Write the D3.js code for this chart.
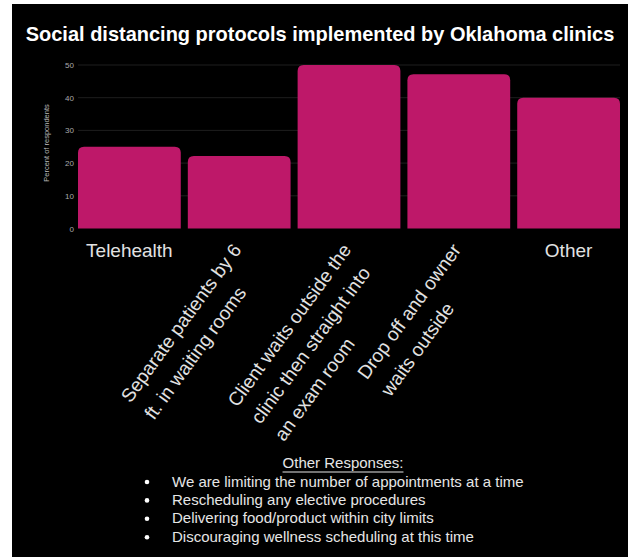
<!DOCTYPE html>
<html>
<head>
<meta charset="utf-8">
<script src="https://cdn.jsdelivr.net/npm/d3@7"></script>
<style>
  body { margin: 0; background: #fff; }
  svg { display: block; font-family: "Liberation Sans", Arial, sans-serif; }
</style>
</head>
<body>
<div id="chart"></div>
<script>
// chart data
const title = 'Social distancing protocols implemented by Oklahoma clinics'
const yTitle = 'Percent of respondents'
const categories = ['Telehealth', 'Separate', 'Client', 'Drop off', 'Other']
const labelLines = [
  ['Telehealth'],
  ['Separate patients by 6', 'ft. in waiting rooms'],
  ['Client waits outside the', 'clinic then straight into', 'an exam room'],
  ['Drop off and owner', 'waits outside'],
  ['Other'],
]
const values = [25, 22.2, 50, 47.2, 40]
const yTicks = [0, 10, 20, 30, 40, 50]
const otherTitle = 'Other Responses:'
const otherResponses = [
  'We are limiting the number of appointments at a time',
  'Rescheduling any elective procedures',
  'Delivering food/product within city limits',
  'Discouraging wellness scheduling at this time',
]

const width = 628, height = 557
const svg = d3.select('#chart').append('svg')
  .attr('width', width)
  .attr('height', height)

// black panel
svg.append('rect')
  .attr('x', 12).attr('y', 4)
  .attr('width', width - 12).attr('height', height - 4)
  .attr('fill', '#000')

// title
const t = svg.append('text')
  .attr('x', 320).attr('y', 41)
  .attr('text-anchor', 'middle')
  .attr('fill', '#fff')
  .style('font-weight', 'bold')
  .style('font-size', '19px')
  .text(title)
// fit title width to the reference
const tw = t.node().getComputedTextLength()
t.style('font-size', (19 * 589 / tw) + 'px')

// scales
const x = d3.scaleBand().domain(categories).range([78, 620]).paddingInner(0.064).paddingOuter(0)
const y = d3.scaleLinear().domain([0, 50]).range([228.5, 65])

// grid lines
svg.append('g')
  .selectAll('line')
  .data(yTicks.filter(d => d > 0))
  .join('line')
  .attr('x1', 78).attr('x2', 620)
  .attr('y1', d => y(d)).attr('y2', d => y(d))
  .attr('stroke', '#1e1e1e')
  .attr('stroke-width', 1)

// y axis labels
const yAxis = svg.append('g')
  .attr('transform', 'translate(78,0)')
  .call(d3.axisLeft(y).tickValues(yTicks).tickSize(0).tickPadding(4))
yAxis.select('.domain').remove()
yAxis.selectAll('text')
  .attr('fill', '#aaa')
  .style('font-size', '8px')
  .style('font-family', '"Liberation Sans", Arial, sans-serif')

// y title
svg.append('text')
  .attr('transform', 'translate(49,' + 143 + ') rotate(-90)')
  .attr('text-anchor', 'middle')
  .attr('fill', '#bbb')
  .style('font-size', '7.5px')
  .text(yTitle)

// bars with rounded top corners
function barPath(x0, w, yTop, yBase, r) {
  return `M${x0},${yBase}V${yTop + r}Q${x0},${yTop} ${x0 + r},${yTop}` +
    `H${x0 + w - r}Q${x0 + w},${yTop} ${x0 + w},${yTop + r}V${yBase}Z`
}
svg.append('g')
  .selectAll('path')
  .data(values)
  .join('path')
  .attr('d', (d, i) => barPath(x(categories[i]), x.bandwidth(), y(d), y(0), 6))
  .attr('fill', '#be1869')

// x labels
const xl = svg.append('g')
  .selectAll('g')
  .data(labelLines)
  .join('g')
  .style('font-size', '19px')
  .attr('fill', '#e2e2e2')

xl.each(function (lines, i) {
  const g = d3.select(this)
  const cx = x(categories[i]) + x.bandwidth() / 2
  if (lines.length === 1) {
    g.append('text')
      .attr('x', cx).attr('y', 257)
      .attr('text-anchor', 'middle')
      .text(lines[0])
  } else {
    g.attr('transform', `translate(${cx + 3},250) rotate(-54)`)
    const first = g.append('text')
      .attr('text-anchor', 'end')
      .text(lines[0])
    const w0 = first.node().getComputedTextLength()
    lines.slice(1).forEach((l, j) => {
      g.append('text')
        .attr('x', -w0)
        .attr('y', 29 * (j + 1))
        .text(l)
    })
  }
})

// other responses note
const note = svg.append('g').attr('fill', '#e6e6e6').style('font-size', '15px')
const nt = note.append('text')
  .attr('x', 343).attr('y', 468)
  .attr('text-anchor', 'middle')
  .text(otherTitle)
const nw = nt.node().getComputedTextLength()
note.append('line')
  .attr('x1', 343 - nw / 2).attr('x2', 343 + nw / 2)
  .attr('y1', 472).attr('y2', 472)
  .attr('stroke', '#e6e6e6').attr('stroke-width', 1)

note.selectAll('.item')
  .data(otherResponses)
  .join('g')
  .attr('class', 'item')
  .attr('transform', (d, i) => `translate(0,${486.5 + i * 18.4})`)
  .each(function (d) {
    const g = d3.select(this)
    g.append('circle').attr('cx', 147).attr('cy', -4.5).attr('r', 2.3).attr('fill', '#fff')
    g.append('text').attr('x', 172).attr('y', 0).text(d)
  })
</script>
</body>
</html>
